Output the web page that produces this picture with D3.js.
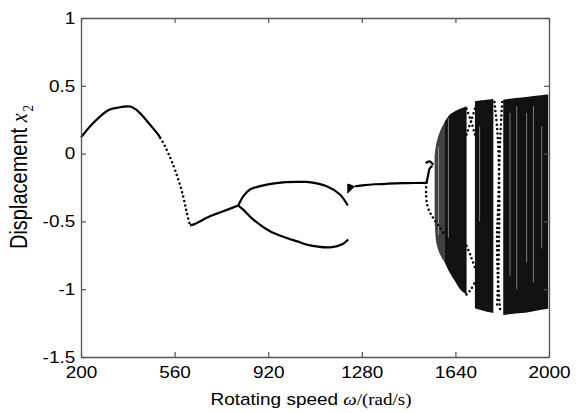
<!DOCTYPE html>
<html>
<head>
<meta charset="utf-8">
<script src="https://cdn.jsdelivr.net/npm/d3@7"></script>
<style>
  body { margin: 0; background: #fff; }
  svg { display: block; }
</style>
</head>
<body>
<div id="chart"></div>
<script>
// Tick values
const omegaTicks = [200, 560, 920, 1280, 1640, 2000];
const dispTicks = [1, 0.5, 0, -0.5, -1, -1.5];

// Period-1 branch [omega, x2]
const period1A = [[200, 0.12], [247, 0.226], [305, 0.32], [337, 0.337], [388, 0.347], [420, 0.312],
                  [465, 0.214], [497, 0.14], [505, 0.115]];
const period1Dotted = [[505, 0.115], [523, 0.054], [549, -0.057], [574, -0.19], [593, -0.315],
                       [607, -0.437], [619, -0.528]];
const period1B = [[619, -0.528], [632, -0.524], [696, -0.462], [747, -0.425], [805, -0.383]];

// Period-2 branches
const period2Upper = [[805, -0.383], [824, -0.315], [850, -0.265], [914, -0.229], [978, -0.212],
                      [1042, -0.209], [1068, -0.209], [1145, -0.241], [1196, -0.302], [1226, -0.383]];
const period2Lower = [[805, -0.383], [824, -0.413], [863, -0.487], [927, -0.573], [991, -0.622],
                      [1042, -0.654], [1068, -0.671], [1158, -0.691], [1203, -0.671], [1228, -0.634]];

// Short wedge [omega, top, bottom] and the branch after it
const wedge = [[1224, -0.221, -0.297], [1240, -0.23, -0.268], [1254, -0.241, -0.243]];
const period1C = [[1254, -0.241], [1290, -0.232], [1330, -0.226], [1380, -0.222], [1450, -0.218], [1529, -0.216]];

// Curves entering the chaotic region
const hookUpper = [[1529, -0.216], [1535, -0.16], [1541, -0.11], [1552, -0.09]];
const hookCurl = [[1526, -0.07], [1540, -0.057], [1555, -0.082]];
const hookLower = [[1529, -0.216], [1527, -0.29], [1533, -0.389], [1550, -0.462], [1577, -0.536], [1600, -0.6]];

// Chaotic bands [omega, top, bottom]
const band1Sparse = [[1560, -0.02, -0.45], [1567, 0.079, -0.66], [1581, 0.164, -0.745], [1600, 0.238, -0.806]];
const band1Dense = [[1600, 0.238, -0.806], [1619, 0.288, -0.88], [1638, 0.312, -0.94], [1658, 0.33, -1.0],
                    [1683, 0.349, -1.04]];
const band2 = [[1715, 0.386, -1.14], [1750, 0.395, -1.16], [1786, 0.403, -1.175]];
const band3 = [[1824, 0.398, -1.19], [1870, 0.41, -1.18], [1920, 0.42, -1.17], [1960, 0.428, -1.155],
               [1997, 0.435, -1.145]];

// Lighter streaks inside the bands [omega, top, bottom]
const streaks = [[1575, 0.05, -0.6], [1613, 0.26, -0.62], [1733, 0.2, -0.5], [1850, 0.3, -0.9],
                 [1876, 0.35, -1.0], [1914, 0.3, -0.8], [1940, 0.35, -0.95], [1972, 0.2, -0.7]];

// Dotted curves inside the periodic windows
const windowA = [
  [[1683, 0.33], [1700, 0.24], [1715, 0.14]],
  [[1683, 0.14], [1700, 0.24], [1715, 0.33]],
  [[1683, -1.04], [1700, -1.0], [1715, -0.95]],
  [[1683, -0.68], [1700, -0.76], [1715, -0.84]]
];
const windowB = [
  [[1790, 0.38], [1800, 0.2], [1806, 0.0], [1809, -0.3], [1808, -0.6], [1805, -0.9], [1800, -1.13]],
  [[1820, 0.38], [1812, 0.1], [1803, -0.46], [1800, -0.6], [1803, -0.9], [1812, -1.15]]
];

const W = 582, H = 413;
const margin = { top: 18, right: 33, bottom: 56, left: 81 };
const stretch = 1.15;

const svg = d3.select("#chart").append("svg")
  .attr("width", W).attr("height", H);

const x = d3.scaleLinear().domain([200, 2000]).range([margin.left, W - margin.right]);
const y = d3.scaleLinear().domain([-1.5, 1]).range([H - margin.bottom, margin.top]);

const line = d3.line().x(d => x(d[0])).y(d => y(d[1])).curve(d3.curveCatmullRom.alpha(0.5));
const area = d3.area().x(d => x(d[0])).y0(d => y(d[2])).y1(d => y(d[1])).curve(d3.curveCatmullRom.alpha(0.5));

const plot = svg.append("g");

// Chaotic bands
plot.append("path").datum(band1Sparse).attr("d", area).attr("fill", "#111").attr("opacity", 0.8);
[band1Dense, band2, band3].forEach(b => {
  plot.append("path").datum(b).attr("d", area).attr("fill", "#111");
});
plot.selectAll(".streak").data(streaks).join("line")
  .attr("class", "streak")
  .attr("x1", d => x(d[0])).attr("x2", d => x(d[0]))
  .attr("y1", d => y(d[1])).attr("y2", d => y(d[2]))
  .attr("stroke", "#fff").attr("stroke-width", 1).attr("opacity", 0.45);
plot.append("path").datum(wedge).attr("d", area).attr("fill", "#000");

// Solid curves
[period1A, period1B, period2Upper, period2Lower, period1C, hookUpper, hookCurl].forEach(c => {
  plot.append("path").datum(c).attr("d", line)
    .attr("fill", "none").attr("stroke", "#000").attr("stroke-width", 2.2);
});

// Dotted curves
[period1Dotted, hookLower].concat(windowA, windowB).forEach(c => {
  plot.append("path").datum(c).attr("d", line)
    .attr("fill", "none").attr("stroke", "#000").attr("stroke-width", 2.5)
    .attr("stroke-linecap", "round").attr("stroke-dasharray", "0,4.5");
});

// Axes (MATLAB style: box with inward ticks)
const axisColor = "#555";
const fontFam = "'Liberation Sans', Arial, sans-serif";
const fmt = d => String(d);

svg.append("g")
  .attr("transform", `translate(0,${H - margin.bottom})`)
  .call(d3.axisBottom(x).tickValues(omegaTicks).tickSizeInner(-5).tickSizeOuter(0).tickPadding(9).tickFormat(fmt));
svg.append("g")
  .attr("transform", `translate(${margin.left},0)`)
  .call(d3.axisLeft(y).tickValues(dispTicks).tickSizeInner(-5).tickSizeOuter(0).tickPadding(5).tickFormat(fmt));
svg.append("g")
  .attr("transform", `translate(0,${margin.top})`)
  .call(d3.axisTop(x).tickValues(omegaTicks).tickSizeInner(-5).tickSizeOuter(0).tickFormat(""));
svg.append("g")
  .attr("transform", `translate(${W - margin.right},0)`)
  .call(d3.axisRight(y).tickValues(dispTicks).tickSizeInner(-5).tickSizeOuter(0).tickFormat(""));

svg.selectAll(".domain").attr("stroke", axisColor).attr("stroke-width", 1.3);
svg.selectAll(".tick line").attr("stroke", axisColor).attr("stroke-width", 1.2);
svg.selectAll(".tick text")
  .attr("fill", "#000")
  .style("font-family", fontFam)
  .style("font-size", "16.5px")
  .attr("transform", `scale(${stretch},1)`);

// Axis titles
const xTitle = svg.append("text")
  .attr("transform", `translate(${(margin.left + W - margin.right) / 2 - 4},405) scale(${stretch},1)`)
  .attr("text-anchor", "middle")
  .style("font-size", "16.5px");
xTitle.append("tspan").style("font-family", fontFam).text("Rotating speed ");
xTitle.append("tspan").style("font-family", "'Liberation Serif', serif").style("font-style", "italic").text("ω");
xTitle.append("tspan").style("font-family", "'Liberation Serif', serif").text("/(rad/s)");

const yTitle = svg.append("text")
  .attr("transform", `translate(27,177) scale(${stretch},1) rotate(-90)`)
  .attr("text-anchor", "middle")
  .style("font-size", "20px");
yTitle.append("tspan").style("font-family", fontFam).text("Displacement  ");
yTitle.append("tspan").style("font-family", "'Liberation Serif', serif").style("font-style", "italic").text("x");
yTitle.append("tspan").style("font-family", "'Liberation Serif', serif")
  .style("font-size", "13px").attr("dy", "5").attr("dx", "2").text("2");
</script>
</body>
</html>
